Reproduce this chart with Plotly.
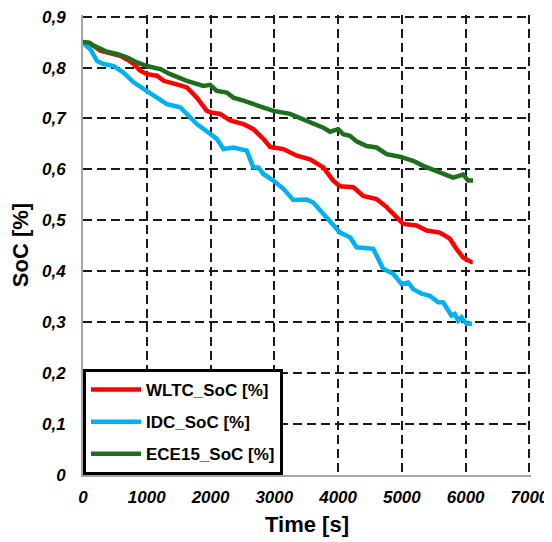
import plotly.graph_objects as go

# ---- data ----
wltc_t = [0, 166, 271, 428, 584, 689, 793, 897, 1002, 1159, 1263, 1472, 1629, 1785, 1942, 2000,
          2150, 2307, 2515, 2671, 2828, 2933, 3142, 3351, 3560, 3768, 3924, 4029, 4238, 4394,
          4604, 4760, 4917, 5020, 5230, 5387, 5595, 5752, 5856, 5960, 6091, 6110]
wltc_soc = [0.850, 0.843, 0.833, 0.829, 0.823, 0.816, 0.807, 0.794, 0.787, 0.784, 0.774, 0.767,
            0.761, 0.741, 0.715, 0.712, 0.709, 0.696, 0.689, 0.679, 0.660, 0.644, 0.640, 0.627,
            0.620, 0.604, 0.578, 0.567, 0.565, 0.548, 0.542, 0.526, 0.506, 0.493, 0.490, 0.480,
            0.476, 0.464, 0.444, 0.427, 0.418, 0.418]

idc_t = [0, 114, 219, 323, 480, 636, 793, 949, 1106, 1315, 1524, 1680, 1785, 1993, 2098, 2202,
         2358, 2568, 2671, 2750, 2828, 2985, 3142, 3298, 3508, 3611, 3768, 3873, 4029, 4186,
         4290, 4551, 4707, 4864, 4995, 5099, 5177, 5309, 5439, 5569, 5647, 5778, 5830, 5882,
         5934, 6013, 6100]
idc_soc = [0.849, 0.836, 0.813, 0.807, 0.803, 0.790, 0.771, 0.758, 0.745, 0.728, 0.722, 0.702,
           0.689, 0.670, 0.660, 0.640, 0.643, 0.637, 0.604, 0.604, 0.591, 0.578, 0.562, 0.540,
           0.541, 0.535, 0.513, 0.496, 0.476, 0.467, 0.447, 0.444, 0.405, 0.395, 0.375, 0.378,
           0.365, 0.356, 0.352, 0.339, 0.339, 0.313, 0.316, 0.303, 0.310, 0.297, 0.297]

ece_t = [0, 100, 166, 271, 376, 532, 689, 846, 1002, 1210, 1367, 1629, 1889, 1993, 2098, 2255,
         2358, 2515, 2671, 2828, 2985, 3246, 3508, 3768, 3873, 4003, 4081, 4186, 4290, 4447,
         4604, 4760, 4969, 5177, 5334, 5543, 5804, 5960, 6039, 6117]
ece_soc = [0.850, 0.849, 0.843, 0.838, 0.831, 0.827, 0.820, 0.810, 0.803, 0.797, 0.787, 0.774,
           0.764, 0.766, 0.754, 0.751, 0.741, 0.735, 0.728, 0.722, 0.715, 0.709, 0.696, 0.682,
           0.674, 0.679, 0.669, 0.666, 0.655, 0.646, 0.643, 0.630, 0.625, 0.617, 0.607, 0.597,
           0.584, 0.590, 0.578, 0.578]

series_names = ["WLTC_SoC [%]", "IDC_SoC [%]", "ECE15_SoC [%]"]
series_colors = ["#FF0000", "#00B0F0", "#1E6E1E"]

x_tickvals = [0, 1000, 2000, 3000, 4000, 5000, 6000, 7000]
x_ticktext = ["0", "1000", "2000", "3000", "4000", "5000", "6000", "7000"]
y_tickvals = [0, 0.1, 0.2, 0.3, 0.4, 0.5, 0.6, 0.7, 0.8, 0.9]
y_ticktext = ["0", "0,1", "0,2", "0,3", "0,4", "0,5", "0,6", "0,7", "0,8", "0,9"]

FONT = "Liberation Sans, Arial, sans-serif"

fig = go.Figure()
for name, t, v, c in zip(series_names, [wltc_t, idc_t, ece_t], [wltc_soc, idc_soc, ece_soc], series_colors):
    fig.add_trace(go.Scatter(x=t, y=v, mode="lines", name=name, legendgroup=name,
                             line=dict(color=c, width=4.5)))

tickfont = dict(family=FONT, size=17, color="black", weight="bold", style="italic")
axis_common = dict(showgrid=True, gridcolor="#1a1a1a", gridwidth=1.5, griddash="9px,5px",
                   showline=True, linecolor="#A6A6A6", linewidth=2, zeroline=False,
                   ticks="", tickfont=tickfont, automargin=False, ticklabeloverflow="allow")

# the page body adds an 8px offset, so the figure is 8px smaller and margins compensate;
# ranges extend slightly so the outer grid lines (0,9 and 7000) are kept by plotly
fig.update_layout(
    width=544, height=534,
    margin=dict(l=75, r=21, t=7, b=67),
    paper_bgcolor="white", plot_bgcolor="white",
    xaxis=dict(range=[0, 7025], tickvals=x_tickvals, ticktext=x_ticktext, ticklabelstandoff=6,
               title=dict(text="Time [s]", font=dict(family=FONT, size=22, color="black", weight="bold"),
                          standoff=10),
               **axis_common),
    yaxis=dict(range=[0, 0.9032], tickvals=y_tickvals, ticktext=y_ticktext, ticklabelstandoff=12,
               title=dict(text="SoC [%]", font=dict(family=FONT, size=22, color="black", weight="bold"),
                          standoff=10),
               **axis_common),
    legend=dict(x=0, y=0, xanchor="left", yanchor="bottom", bgcolor="white",
                bordercolor="black", borderwidth=3, traceorder="grouped", tracegroupgap=7,
                itemwidth=50,
                font=dict(family=FONT, size=17, color="black", weight="bold")),
    showlegend=True,
)

fig.write_html("out.html")
